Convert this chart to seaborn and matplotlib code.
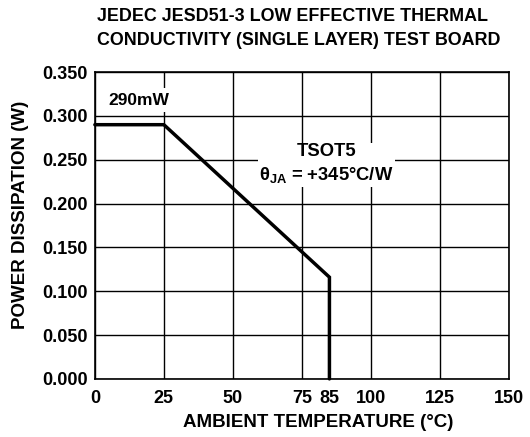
import matplotlib
matplotlib.use("Agg")
import matplotlib.pyplot as plt
import seaborn as sns
import pandas as pd

# Derating curve: power dissipation vs ambient temperature
temps = [0, 25, 85, 85]
power = [0.290, 0.290, 0.116, 0.0]
x_ticks = [0, 25, 50, 75, 85, 100, 125, 150]
y_ticks = [0.0, 0.05, 0.10, 0.15, 0.20, 0.25, 0.30, 0.35]

title = "JEDEC JESD51-3 LOW EFFECTIVE THERMAL\nCONDUCTIVITY (SINGLE LAYER) TEST BOARD"
x_label = "AMBIENT TEMPERATURE (°C)"
y_label = "POWER DISSIPATION (W)"
max_label = "290mW"
package_label = "TSOT5"
theta_label = r"θ$_{\mathbf{JA}}$ = +345°C/W"

sns.set_theme(style="white")
plt.rcParams["font.family"] = ["Liberation Sans", "DejaVu Sans"]
plt.rcParams["font.weight"] = "bold"
plt.rcParams["mathtext.fontset"] = "custom"
plt.rcParams["mathtext.rm"] = "Liberation Sans"
plt.rcParams["mathtext.bf"] = "Liberation Sans:bold"
plt.rcParams["mathtext.it"] = "Liberation Sans:italic"

df = pd.DataFrame({"temp": temps, "power": power})

fig = plt.figure(figsize=(5.30, 4.37), dpi=100)
ax = fig.add_axes([0.179, 0.133, 0.781, 0.702])

sns.lineplot(data=df, x="temp", y="power", sort=False, estimator=None,
             color="black", linewidth=2.5, ax=ax, zorder=4)
for ln in ax.lines:
    ln.set_clip_on(False)
    ln.set_solid_joinstyle("miter")

ax.set_xlim(0, 150)
ax.set_ylim(0, 0.35)
ax.set_xticks(x_ticks)
ax.set_xticklabels([str(t) for t in x_ticks])
ax.set_yticks(y_ticks)
ax.set_yticklabels([f"{v:.3f}" for v in y_ticks])

ax.grid(True, color="black", linewidth=1.0)
ax.set_axisbelow(True)
# no grid line at the 85 °C tick
ax.xaxis.get_gridlines()[x_ticks.index(85)].set_visible(False)

for s in ax.spines.values():
    s.set_color("black")
    s.set_linewidth(1.2)

ax.tick_params(axis="both", which="major", labelsize=13, colors="black",
               length=3, width=1, direction="out", pad=2)
ax.tick_params(axis="x", length=0, pad=8)
for lab in ax.get_xticklabels() + ax.get_yticklabels():
    lab.set_fontweight("bold")

ax.set_xlabel(x_label, fontsize=13.5, fontweight="bold", color="black")
ax.set_ylabel(y_label, fontsize=13.5, fontweight="bold", color="black")
ax.xaxis.set_label_coords(0.539, -0.115)
ax.yaxis.set_label_coords(-0.16, 0.534)

fig.text(0.183, 0.982, title, ha="left", va="top", fontsize=12.9,
         fontweight="bold", color="black", linespacing=1.55,
         multialignment="left")

ax.text(16, 0.318, max_label, ha="center", va="center", fontsize=12.5,
        fontweight="bold", color="black", zorder=5,
        bbox=dict(facecolor="white", edgecolor="none", pad=3))
ax.text(84, 0.245, package_label + "\n" + theta_label, ha="center", va="center",
        fontsize=13.2, fontweight="bold", color="black", zorder=5,
        linespacing=1.35,
        bbox=dict(facecolor="white", edgecolor="none", pad=1))

fig.savefig("out.png", dpi=100, facecolor="white")
